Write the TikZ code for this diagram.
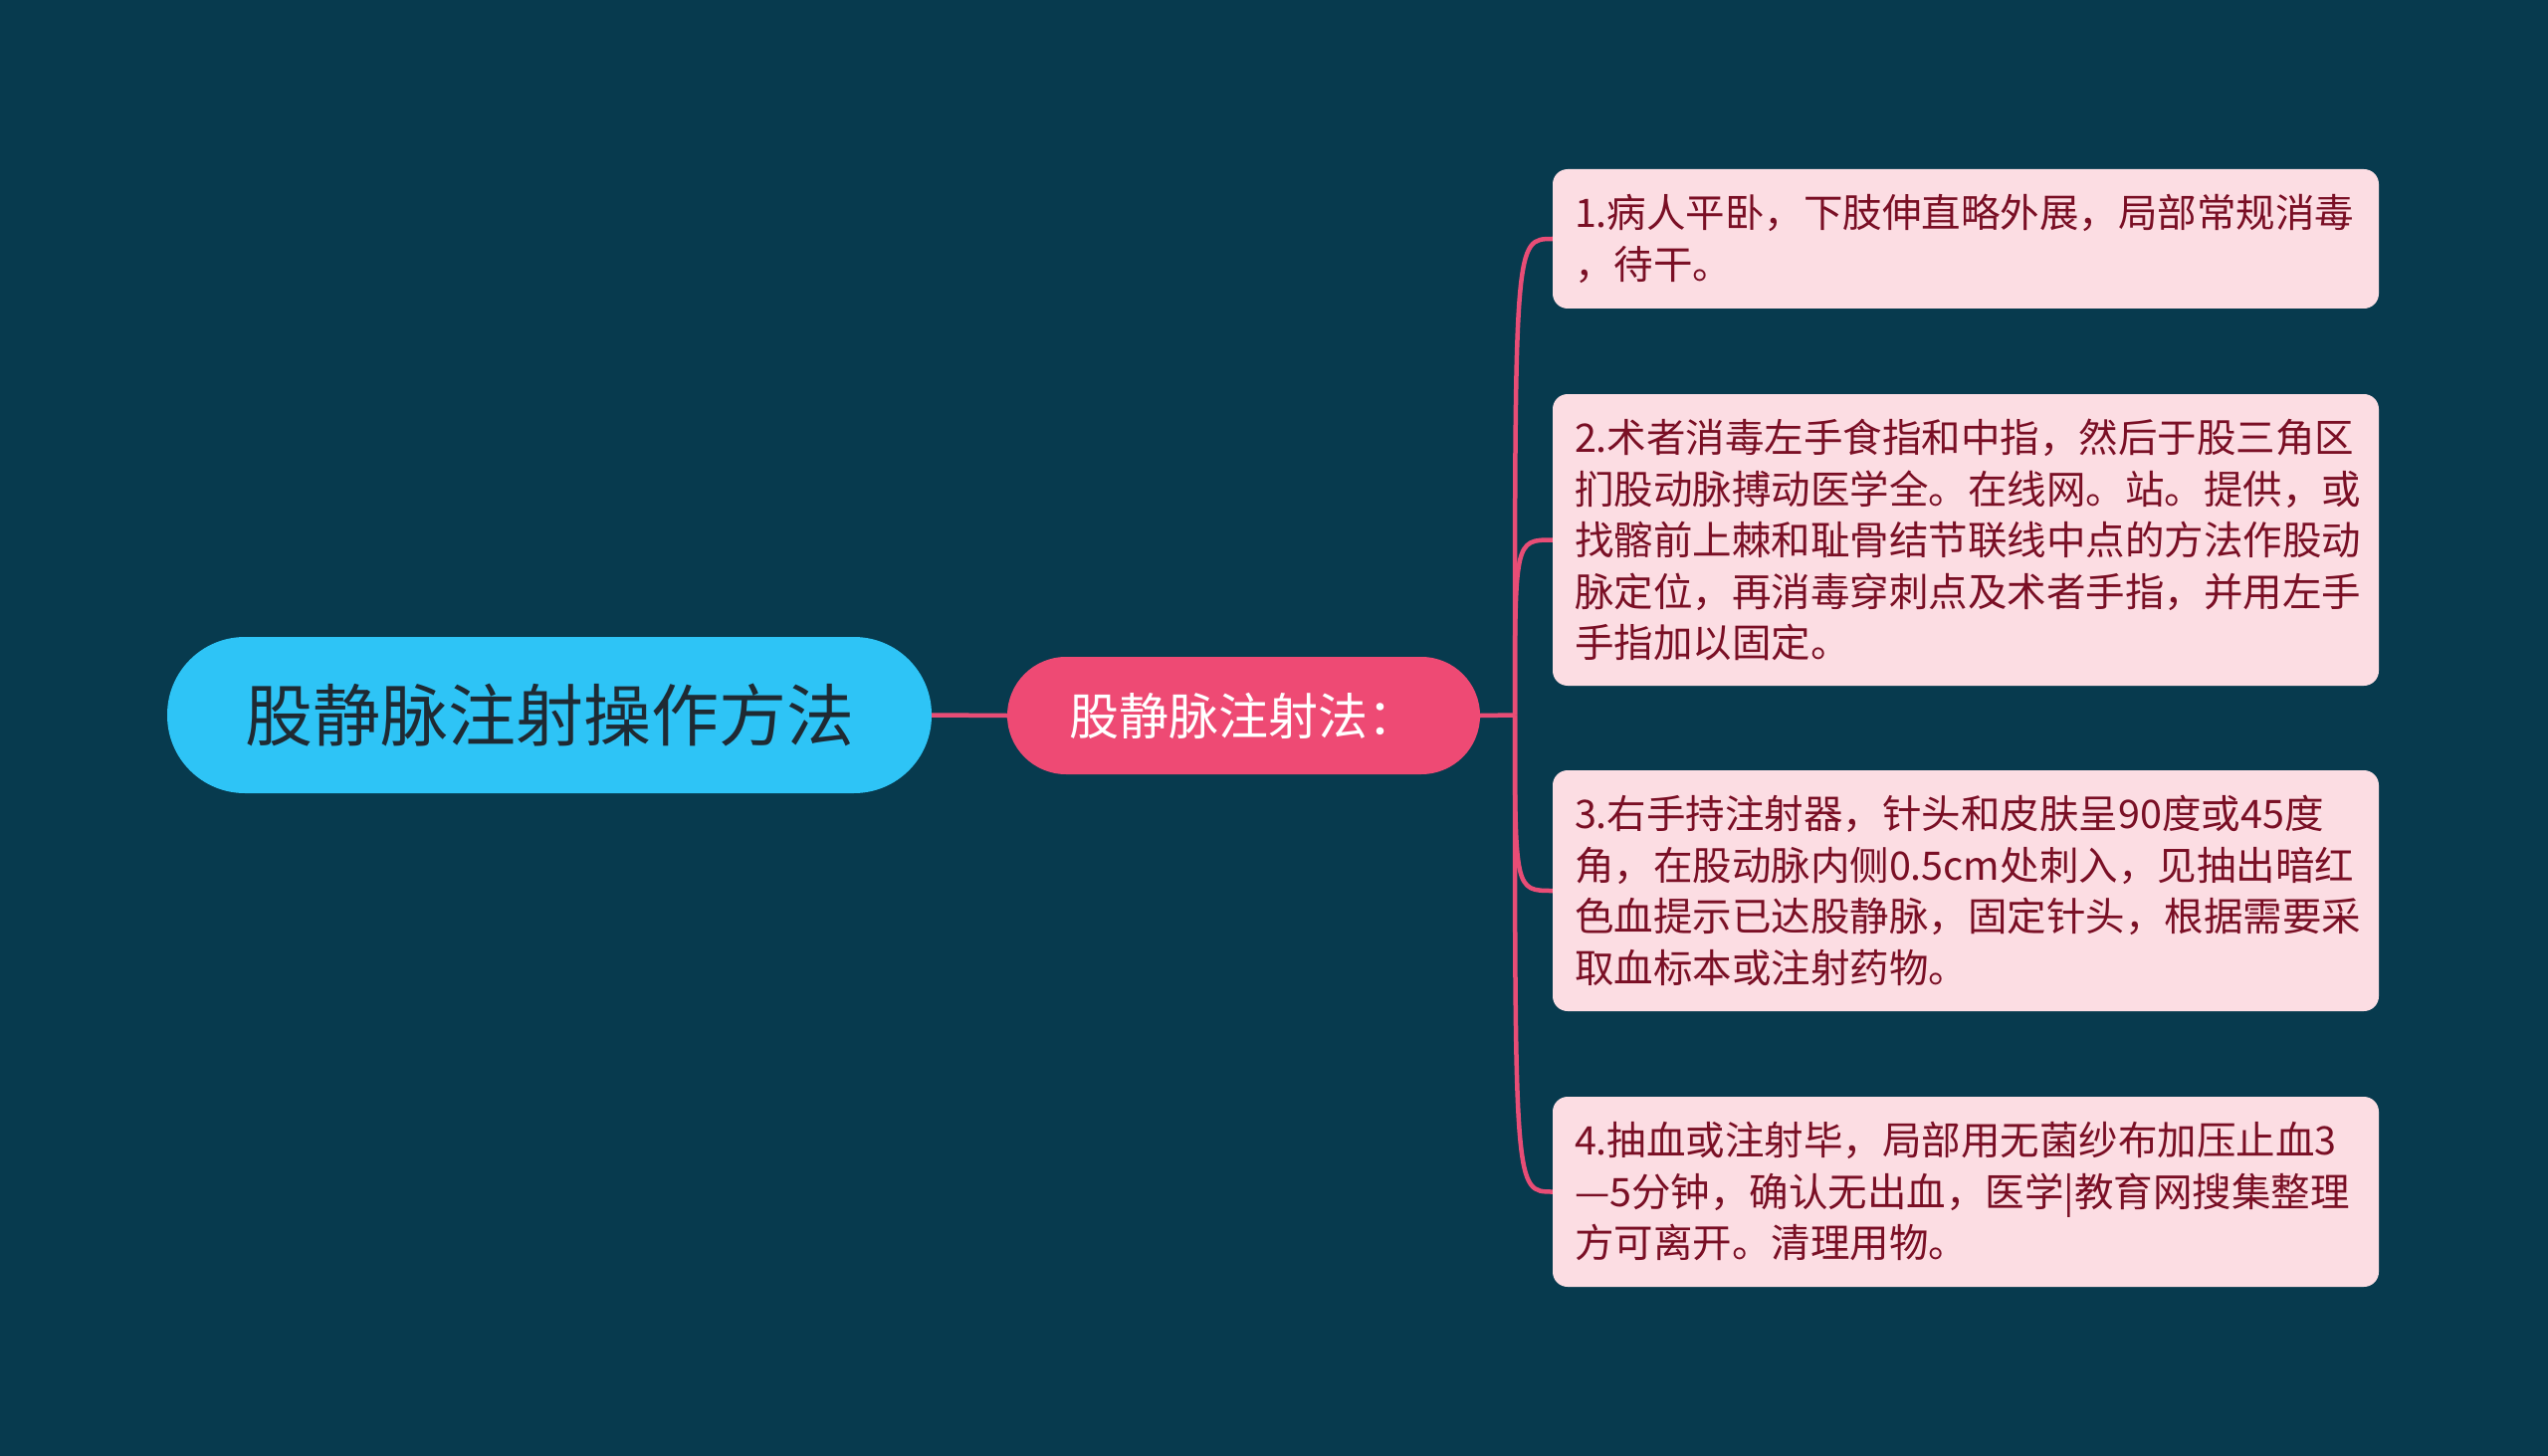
\documentclass[tikz,border=0pt]{standalone}
\usepackage{fontspec}
\setmainfont{Noto Sans CJK SC}
\definecolor{bgc}{HTML}{073A4E}
\definecolor{rootc}{HTML}{2EC4F6}
\definecolor{roottext}{HTML}{1F2A33}
\definecolor{subc}{HTML}{EE4A74}
\definecolor{leafc}{HTML}{FCDDE3}
\definecolor{leaftext}{HTML}{7A0F25}
\definecolor{linec}{HTML}{E84D76}
\begin{document}
\begin{tikzpicture}[x=1pt,y=-1pt,
  rootbox/.style={fill=rootc, rounded corners=78pt, minimum width=768pt, minimum height=157pt,
    inner sep=0pt, text=roottext, font=\fontsize{68}{68}\selectfont},
  subbox/.style={fill=subc, rounded corners=59pt, minimum width=475pt, minimum height=118pt,
    inner sep=0pt, text=white, font=\fontsize{50}{50}\selectfont},
  leafbox/.style={fill=leafc, rounded corners=15pt, text width=786pt, align=left,
    inner xsep=22pt, inner ysep=0pt, text=leaftext, font=\fontsize{39.5}{51.5}\selectfont},
  conn/.style={draw=linec, line width=4.5pt}
]
\useasboundingbox (0,0) rectangle (2560,1463);
\fill[bgc] (0,0) rectangle (2560,1463);

\node[rootbox] (root) at (552,718.5) {股静脉注射操作方法};
\node[subbox] (sub) at (1249.5,719) {股静脉注射法：};
\coordinate (trunk) at (1522,718.5);

\node[leafbox, minimum height=140pt] (b1) at (1975,240)
  {1.病人平卧，下肢伸直略外展，局部常规消毒\\，待干。};
\node[leafbox, minimum height=293pt] (b2) at (1975,542.5)
  {2.术者消毒左手食指和中指，然后于股三角区\\扪股动脉搏动医学全。在线网。站。提供，或\\找髂前上棘和耻骨结节联线中点的方法作股动\\脉定位，再消毒穿刺点及术者手指，并用左手\\手指加以固定。};
\node[leafbox, minimum height=242pt] (b3) at (1975,895)
  {3.右手持注射器，针头和皮肤呈90度或45度\\角，在股动脉内侧0.5cm处刺入，见抽出暗红\\色血提示已达股静脉，固定针头，根据需要采\\取血标本或注射药物。};
\node[leafbox, minimum height=191pt] (b4) at (1975,1197.5)
  {4.抽血或注射毕，局部用无菌纱布加压止血3\\—5分钟，确认无出血，医学|教育网搜集整理\\方可离开。清理用物。};

\draw[conn] (root.east) -- (sub.west);
\draw[conn] (sub.east) -- (trunk);
\foreach \b in {b1,b2,b3,b4}{
  \draw[conn] (trunk) .. controls (trunk |- \b.west) .. (\b.west);
}
\end{tikzpicture}
\end{document}
